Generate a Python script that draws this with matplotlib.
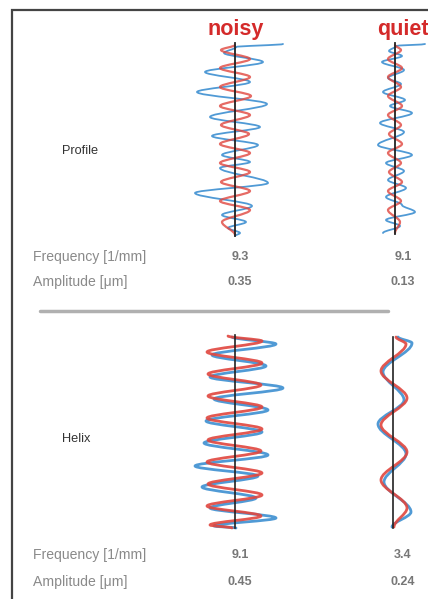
import numpy as np
import matplotlib.pyplot as plt
from matplotlib.path import Path
from matplotlib.patches import PathPatch

plt.rcParams['font.family'] = ['Liberation Sans', 'DejaVu Sans']

# =========================
# DATA (pixel positions)
# =========================

columns = ["noisy", "quiet"]
rows = ["Profile", "Helix"]
freq_label = "Frequency [1/mm]"
amp_label = "Amplitude [\u03bcm]"
frequency = {"Profile": ["9.3", "9.1"], "Helix": ["9.1", "3.4"]}
amplitude = {"Profile": ["0.35", "0.13"], "Helix": ["0.45", "0.24"]}

# profile, noisy: red fit extrema
prof_noisy_red_x = [235, 221, 250, 220, 250, 220, 251, 220, 250, 221, 249,
                    220, 250, 220, 250, 221, 250, 220, 250, 222, 235]
prof_noisy_red_y = [45, 50, 59, 68, 77, 87, 96, 106, 115, 125, 134,
                    144, 153, 163, 172, 182, 191, 201, 210, 222, 235]
# profile, noisy: blue measurement extrema
prof_noisy_blue_x = [283, 236, 224, 263, 205, 250, 197, 267, 210, 260, 212,
                     258, 222, 250, 220, 268, 195, 252, 222, 246, 228, 240,
                     235]
prof_noisy_blue_y = [44, 47, 53, 62, 72, 82, 92, 104, 117, 127, 136,
                     145, 155, 162, 168, 183, 193, 206, 215, 222, 228, 233,
                     236]

# profile, quiet
prof_quiet_red_x = [395, 401, 388, 402, 388, 401, 388, 402, 388, 401, 389,
                    402, 388, 401, 389, 402, 388, 401, 388, 400, 395]
prof_quiet_red_y = [45, 50, 59, 68, 77, 87, 96, 106, 115, 125, 134,
                    144, 153, 163, 172, 182, 191, 201, 210, 222, 233]
prof_quiet_blue_x = [425, 396, 389, 402, 382, 404, 388, 401, 383, 405, 390,
                     412, 380, 404, 378, 412, 386, 404, 388, 406, 386, 402,
                     415, 386, 400, 383]
prof_quiet_blue_y = [44, 46, 51, 56, 62, 70, 78, 84, 92, 100, 106,
                     113, 123, 132, 145, 155, 163, 171, 180, 188, 197, 205,
                     212, 220, 226, 233]

# helix, noisy
helix_noisy_red_x = [228, 262, 207, 262, 208, 261, 208, 262, 207, 262, 208,
                     261, 207, 262, 208, 262, 207, 261, 210, 232]
helix_noisy_red_y = [336, 341, 352, 363, 374, 385, 396, 407, 418, 429, 440,
                     451, 462, 473, 484, 495, 506, 516, 525, 528]
helix_noisy_blue_x = [232, 276, 212, 266, 210, 283, 214, 268, 206, 262, 204,
                      268, 195, 258, 202, 256, 210, 276, 214, 236]
helix_noisy_blue_y = [337, 344, 355, 366, 377, 388, 399, 410, 421, 432, 443,
                      455, 466, 476, 487, 498, 508, 518, 526, 528]

# helix, quiet
helix_quiet_red_x = [396, 406, 381, 407, 381, 407, 381, 407, 394]
helix_quiet_red_y = [337, 344, 371, 398, 425, 452, 480, 508, 527]
helix_quiet_blue_x = [398, 412, 383, 404, 378, 406, 384, 411, 392]
helix_quiet_blue_y = [337, 343, 372, 400, 424, 454, 482, 512, 527]

# =========================
# HELPERS
# =========================


def wave(ax, xs, ys, color, lw, alpha=1.0, z=2):
    # smooth curve through extrema, tangent along the trace at each extremum
    verts = [(xs[0], ys[0])]
    codes = [Path.MOVETO]
    for i in range(1, len(xs)):
        dy = (ys[i] - ys[i - 1]) / 3.0
        verts += [(xs[i - 1], ys[i - 1] + dy),
                  (xs[i], ys[i] - dy),
                  (xs[i], ys[i])]
        codes += [Path.CURVE4] * 3
    ax.add_patch(PathPatch(Path(verts, codes), fill=False, edgecolor=color,
                           lw=lw, alpha=alpha, zorder=z, capstyle="round",
                           joinstyle="round"))


# =========================
# FIGURE
# =========================

fig = plt.figure(figsize=(4.28, 5.99), dpi=100)
ax = fig.add_axes([0, 0, 1, 1])
ax.set_xlim(0, 428)
ax.set_ylim(599, 0)
ax.axis("off")

red = "#e0463e"
blue = "#3d8fd1"
dark = "#222222"

# frame
ax.plot([12, 12, 430], [600, 9.5, 9.5], color="#444444", lw=1.6,
        solid_joinstyle="miter")

# column titles
ax.text(236, 29, columns[0], color="#d42a2a", fontsize=15.5,
        fontweight="bold", ha="center", va="center")
ax.text(377, 29, columns[1], color="#d42a2a", fontsize=15.5,
        fontweight="bold", ha="left", va="center")

# profile traces
wave(ax, prof_noisy_blue_x, prof_noisy_blue_y, blue, 1.3, 0.9, 2)
wave(ax, prof_noisy_red_x, prof_noisy_red_y, red, 1.6, 0.8, 3)
wave(ax, prof_quiet_blue_x, prof_quiet_blue_y, blue, 1.3, 0.9, 2)
wave(ax, prof_quiet_red_x, prof_quiet_red_y, red, 1.6, 0.8, 3)
ax.plot([235, 235], [43, 236], color=dark, lw=1.3, zorder=4)
ax.plot([395, 395], [43, 234], color=dark, lw=1.3, zorder=4)

# helix traces
wave(ax, helix_noisy_blue_x, helix_noisy_blue_y, blue, 2.0, 0.9, 2)
wave(ax, helix_noisy_red_x, helix_noisy_red_y, red, 2.0, 0.9, 3)
wave(ax, helix_quiet_blue_x, helix_quiet_blue_y, blue, 2.0, 0.9, 2)
wave(ax, helix_quiet_red_x, helix_quiet_red_y, red, 2.0, 0.9, 3)
ax.plot([235, 235], [335, 528], color=dark, lw=1.2, zorder=4)
ax.plot([393, 393], [337, 528], color=dark, lw=1.2, zorder=4)

# row labels and values
row_y = {"Profile": (151, 257, 282), "Helix": (439, 555, 582)}
val_x = [240, 403]
for r in rows:
    y_lab, y_f, y_a = row_y[r]
    ax.text(62, y_lab, r, color="#333333", fontsize=9.2, va="center")
    ax.text(33, y_f, freq_label, color="#8a8a8a", fontsize=10.1, va="center")
    ax.text(33, y_a, amp_label, color="#8a8a8a", fontsize=10.1, va="center")
    for j in range(2):
        ax.text(val_x[j], y_f, frequency[r][j], color="#777777", fontsize=9,
                fontweight="bold", ha="center", va="center")
        ax.text(val_x[j], y_a, amplitude[r][j], color="#777777", fontsize=9,
                fontweight="bold", ha="center", va="center")

# separator
ax.plot([40, 388], [311, 311], color="#b0b0b0", lw=2.5,
        solid_capstyle="round")

plt.savefig("out.png", dpi=100)
